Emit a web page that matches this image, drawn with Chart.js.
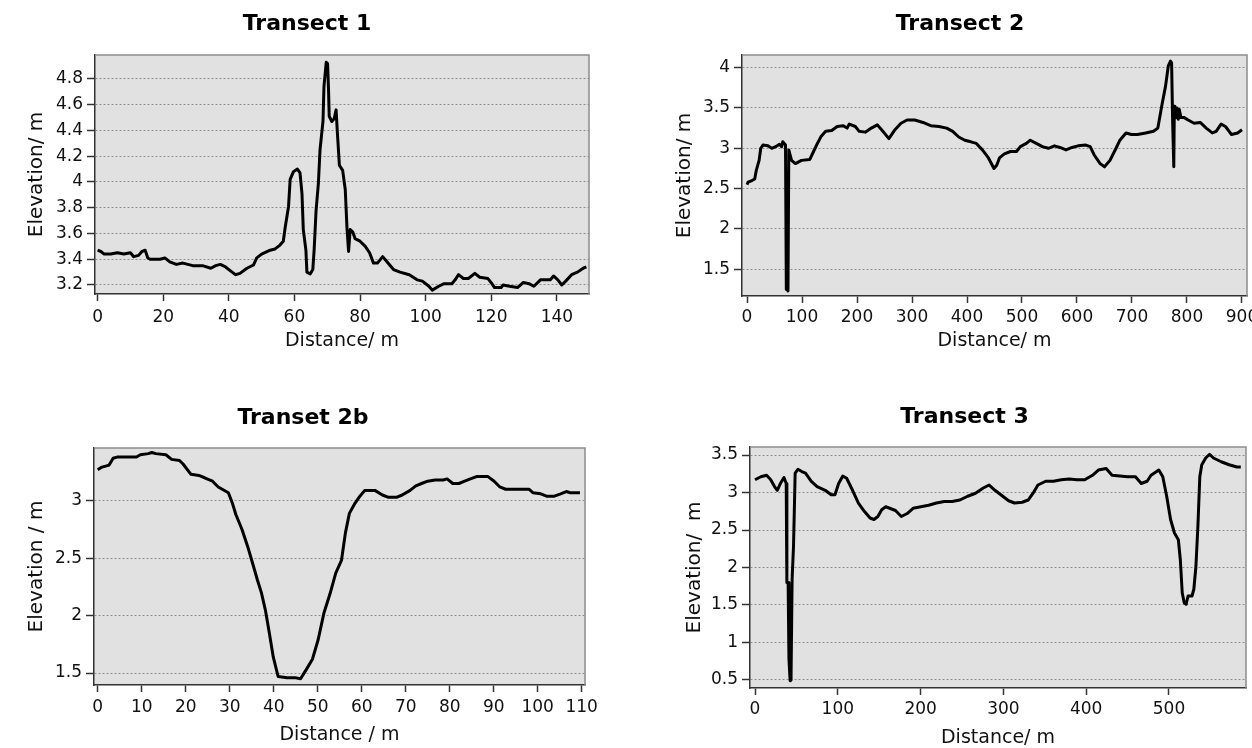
<!DOCTYPE html>
<html>
<head>
<meta charset="utf-8">
<script src="https://cdn.jsdelivr.net/npm/chart.js@4.4.1/dist/chart.umd.min.js"></script>
<style>
html,body{margin:0;padding:0;background:#fff;overflow:hidden;width:1252px;height:748px;position:relative;}
canvas{position:absolute;}
</style>
</head>
<body>
<canvas id="c1"></canvas>
<canvas id="c2"></canvas>
<canvas id="c3"></canvas>
<canvas id="c4"></canvas>
<script>
// ---------- Transect 1 ----------
const t1Distance = [0,1,2,4,6,8,10,11,12.5,13.5,14.5,15.3,16,19,20.5,22,24,26,27.5,29,32,34.5,36,37.4,39,40.5,42,43.4,45.5,47.5,48.5,50,52.6,54.1,55.6,56.6,57.2,58.2,58.7,59.7,60.9,61.7,62.3,62.7,63.5,63.8,64.8,65.6,66,66.6,67.3,67.8,68.7,69,69.7,70.1,70.4,70.6,71.4,72.1,72.7,73.1,73.7,74.7,75.5,76,76.5,77,77.8,78.5,80,81.6,82.9,84.1,85.3,86.9,88.2,90.2,92.2,95,97.4,99,101,102,104,105.6,108,109,110,111.5,113,115,116.5,119,120.2,121,123,123.6,125.6,128,129.8,131.5,133,135,138,139,140.3,141.5,142.7,144.5,146.3,148,149];
const t1Elevation = [3.47,3.46,3.44,3.44,3.45,3.44,3.45,3.42,3.43,3.46,3.47,3.41,3.40,3.40,3.41,3.38,3.36,3.37,3.36,3.35,3.35,3.33,3.35,3.36,3.34,3.31,3.28,3.29,3.33,3.355,3.41,3.44,3.47,3.48,3.51,3.54,3.65,3.81,4.02,4.08,4.10,4.07,3.91,3.63,3.47,3.30,3.285,3.32,3.47,3.78,3.99,4.25,4.47,4.74,4.93,4.92,4.71,4.51,4.47,4.49,4.56,4.38,4.13,4.09,3.94,3.65,3.46,3.63,3.61,3.56,3.54,3.50,3.45,3.37,3.37,3.42,3.38,3.32,3.30,3.28,3.24,3.23,3.19,3.16,3.19,3.21,3.21,3.24,3.28,3.25,3.25,3.29,3.26,3.25,3.21,3.18,3.18,3.20,3.19,3.18,3.22,3.21,3.19,3.24,3.24,3.27,3.24,3.20,3.23,3.28,3.30,3.33,3.34];
const t1XTicks = [0,20,40,60,80,100,120,140];
const t1YTicks = [3.2,3.4,3.6,3.8,4,4.2,4.4,4.6,4.8];

// ---------- Transect 2 ----------
const t2Distance = [0,2,9,14,17,22,25,29,38,45,52,59,63,65,70,71.5,73,74.5,76,81,88,99,114,121,128,135,143,154,164,175,182,186,197,204,215,226,237,247,258,269,280,291,305,320,334,349,363,374,385,396,407,417,428,439,449,454,459,468,479,490,497,508,515,526,537,548,559,569,580,591,602,616,624,631,642,650,660,671,678,689,699,710,725,739,747,754,761,766,770,772,774,776,777,778,780,782,784,786,789,795,802,813,824,835,846,853,862,870,881,892,900];
const t2Elevation = [2.55,2.58,2.60,2.62,2.73,2.85,3.00,3.04,3.03,3.00,3.02,3.05,3.02,3.08,3.04,1.25,2.60,1.23,2.98,2.85,2.81,2.85,2.86,2.96,3.06,3.15,3.21,3.22,3.27,3.28,3.25,3.30,3.27,3.21,3.20,3.25,3.29,3.21,3.12,3.23,3.31,3.35,3.35,3.32,3.28,3.27,3.25,3.21,3.14,3.10,3.08,3.06,2.98,2.88,2.75,2.79,2.88,2.93,2.96,2.96,3.02,3.06,3.10,3.06,3.02,3.00,3.03,3.01,2.98,3.01,3.03,3.04,3.02,2.92,2.81,2.77,2.85,3.00,3.10,3.19,3.17,3.17,3.19,3.21,3.25,3.52,3.77,4.02,4.08,4.06,3.30,2.77,3.52,3.45,3.38,3.50,3.36,3.48,3.38,3.38,3.35,3.31,3.32,3.25,3.19,3.21,3.30,3.27,3.17,3.19,3.23];
const t2XTicks = [0,100,200,300,400,500,600,700,800,900];
const t2YTicks = [1.5,2,2.5,3,3.5,4];

// ---------- Transet 2b ----------
const t2bDistance = [0,0.8,2.6,3.5,4.4,8.8,9.7,11.5,12.3,13.2,15.5,16.8,18.6,19.4,21.2,23,24.3,26.1,27.4,29.7,30.6,31.4,32.8,34.1,35.4,36.3,37.2,38.1,39,39.9,41,43,44.8,46.1,47.4,48.8,50.1,51.4,52.8,54.1,55.4,56.3,57.2,58.5,59.4,60.7,63,64.7,66.1,67.9,69.2,71,72.3,73.6,75,76.7,78.5,79.4,80.7,82.1,83.4,84.7,86.1,88.7,90.1,91.4,92.7,95.4,98,98.9,100.7,102,103.8,105.2,106.5,107.4,109.6];
const t2bElevation = [3.27,3.29,3.31,3.37,3.38,3.38,3.40,3.41,3.42,3.41,3.40,3.36,3.35,3.32,3.23,3.22,3.20,3.17,3.12,3.07,2.98,2.88,2.75,2.60,2.43,2.31,2.20,2.05,1.85,1.64,1.47,1.46,1.46,1.45,1.53,1.62,1.79,2.02,2.19,2.37,2.48,2.72,2.89,2.98,3.03,3.09,3.09,3.05,3.03,3.03,3.05,3.09,3.13,3.15,3.17,3.18,3.18,3.19,3.15,3.15,3.17,3.19,3.21,3.21,3.17,3.12,3.10,3.10,3.10,3.07,3.06,3.04,3.04,3.06,3.08,3.07,3.07];
const t2bXTicks = [0,10,20,30,40,50,60,70,80,90,100,110];
const t2bYTicks = [1.5,2,2.5,3];

// ---------- Transect 3 ----------
const t3Distance = [0,7,14,19,23.6,26.9,30.6,35,37.7,38.5,40,41,42.4,43.5,44.8,46.5,48.5,51.8,56.5,61,68,75,84.8,92,96.6,101,106,110.7,117.8,124.9,132,139,143.7,148.4,153,157.9,162.6,169.7,176.7,183.8,190.9,200.3,209.7,219.1,228.6,238,247.4,256.8,266.3,275.7,282.8,289.8,296.9,306.3,313.4,322.8,329.9,336.9,341.7,351.1,360.5,369.9,379.4,388.8,398.2,407.6,414.7,424.1,431.2,440.6,450,459.5,466.5,473.6,478.3,487.7,492.5,497.2,501.9,506.6,511.3,513.7,516,518.4,520.7,523,527.8,530,532.5,534.9,537.2,539.6,544.3,549,553.7,563.1,572.6,582,586.7];
const t3Elevation = [3.17,3.21,3.23,3.17,3.08,3.03,3.12,3.20,3.12,1.80,1.80,0.78,0.49,0.50,1.84,2.28,3.26,3.31,3.28,3.26,3.15,3.08,3.03,2.97,2.97,3.12,3.22,3.19,3.03,2.86,2.75,2.66,2.64,2.68,2.77,2.81,2.79,2.76,2.68,2.72,2.79,2.81,2.83,2.86,2.88,2.88,2.90,2.95,2.99,3.06,3.10,3.03,2.97,2.89,2.86,2.87,2.90,3.01,3.10,3.15,3.15,3.17,3.18,3.17,3.17,3.23,3.30,3.32,3.23,3.22,3.21,3.21,3.12,3.15,3.23,3.30,3.21,2.95,2.64,2.46,2.37,2.10,1.66,1.53,1.51,1.62,1.62,1.71,2.01,2.55,3.21,3.37,3.46,3.51,3.46,3.41,3.37,3.34,3.34];
const t3XTicks = [0,100,200,300,400,500];
const t3YTicks = [0.5,1,1.5,2,2.5,3,3.5];

// ---------- rendering ----------
Chart.defaults.font.family = 'DejaVu Sans';
Chart.defaults.color = '#111';

const plotFrame = {
  id: 'plotFrame',
  beforeDraw(chart) {
    const {ctx, chartArea: a} = chart;
    ctx.save();
    ctx.fillStyle = '#e1e1e1';
    ctx.fillRect(a.left, a.top, a.right - a.left, a.bottom - a.top);
    ctx.restore();
  },
  afterDraw(chart) {
    const {ctx, chartArea: a} = chart;
    ctx.save();
    ctx.strokeStyle = '#8c8c8c';
    ctx.lineWidth = 1.5;
    ctx.beginPath();
    ctx.moveTo(a.left, a.top);
    ctx.lineTo(a.right, a.top);
    ctx.lineTo(a.right, a.bottom);
    ctx.stroke();
    ctx.restore();
  }
};

const fmt = v => String(parseFloat(Number(v).toFixed(2)));

function makeChart(id, g, title, xTitle, yTitle, dist, elev, xTicks, yTicks, xRange, yRange) {
  const cv = document.getElementById(id);
  cv.width = g.w; cv.height = g.h;
  cv.style.left = g.left + 'px'; cv.style.top = g.top + 'px';
  cv.style.width = g.w + 'px'; cv.style.height = g.h + 'px';
  return new Chart(cv, {
    type: 'line',
    data: {
      datasets: [{
        data: dist.map((d, i) => ({x: d, y: elev[i]})),
        borderColor: '#000',
        borderWidth: 3,
        pointRadius: 0,
        fill: false,
        tension: 0,
        borderJoinStyle: 'round'
      }]
    },
    plugins: [plotFrame],
    options: {
      responsive: false,
      animation: false,
      devicePixelRatio: 1,
      layout: {padding: {left: g.pl, right: g.pr, top: 0, bottom: 0}},
      plugins: {
        legend: {display: false},
        tooltip: {enabled: false},
        title: {
          display: true, text: title, color: '#000',
          font: {family: 'DejaVu Sans', size: 22, weight: 'bold', lineHeight: 1.2},
          padding: {top: g.titleTop, bottom: g.titleBottom}
        }
      },
      scales: {
        x: {
          type: 'linear', min: xRange[0], max: xRange[1],
          afterBuildTicks: s => { s.ticks = xTicks.map(v => ({value: v})); },
          afterFit: s => { s.height = g.xh; },
          ticks: {autoSkip: false, maxRotation: 0, padding: g.xPad, font: {size: 17}, color: '#111', callback: fmt},
          grid: {display: true, drawOnChartArea: false, drawTicks: true, tickLength: 7, tickColor: '#333', tickWidth: 1.5},
          border: {display: true, color: '#333', width: 1.5},
          title: {display: true, text: xTitle, color: '#111', font: {size: 19, lineHeight: 1.2}, padding: {top: 0, bottom: g.xtPad}}
        },
        y: {
          type: 'linear', min: yRange[0], max: yRange[1],
          afterBuildTicks: s => { s.ticks = yTicks.map(v => ({value: v})); },
          afterFit: s => { s.width = g.yw; },
          ticks: {autoSkip: false, padding: 4, font: {size: 17}, color: '#111', callback: fmt},
          grid: {display: true, drawOnChartArea: true, drawTicks: true, tickLength: 8, color: '#8f8f8f', lineWidth: 1, tickColor: '#333', tickWidth: 1.5},
          border: {display: true, color: '#333', width: 1.5, dash: [2, 2]},
          title: {display: true, text: yTitle, color: '#111', font: {size: 20, lineHeight: 1.2}, padding: {top: g.ytPad, bottom: 0}}
        }
      }
    }
  });
}

makeChart('c1', {left: 0, top: 0, w: 614, h: 360, pl: 25, pr: 25, titleTop: 10.8, titleBottom: 17.8, yw: 70, xh: 66, xPad: 6.8, xtPad: 7.6, ytPad: 0},
  'Transect 1', 'Distance/ m', 'Elevation/ m', t1Distance, t1Elevation, t1XTicks, t1YTicks, [-0.8, 149.8], [3.13, 4.986]);

makeChart('c2', {left: 640, top: 0, w: 632, h: 360, pl: 33, pr: 25, titleTop: 10.8, titleBottom: 17.8, yw: 69, xh: 64, xPad: 4.8, xtPad: 7.6, ytPad: 0},
  'Transect 2', 'Distance/ m', 'Elevation/ m', t2Distance, t2Elevation, t2XTicks, t2YTicks, [-9.1, 909.1], [1.169, 4.156]);

makeChart('c3', {left: 0, top: 380, w: 610, h: 368, pl: 21, pr: 25, titleTop: 24.8, titleBottom: 16.8, yw: 73, xh: 63, xPad: 5.8, xtPad: 1.6, ytPad: 3.8},
  'Transet 2b', 'Distance / m', 'Elevation / m', t2bDistance, t2bElevation, t2bXTicks, t2bYTicks, [-0.84, 110.75], [1.396, 3.459]);

makeChart('c4', {left: 640, top: 380, w: 612, h: 372, pl: 43, pr: 6, titleTop: 23.8, titleBottom: 16.8, yw: 67, xh: 64, xPad: 4.8, xtPad: 2.6, ytPad: 0},
  'Transect 3', 'Distance/ m', 'Elevation/  m', t3Distance, t3Elevation, t3XTicks, t3YTicks, [-6.04, 593], [0.393, 3.607]);
</script>
</body>
</html>
